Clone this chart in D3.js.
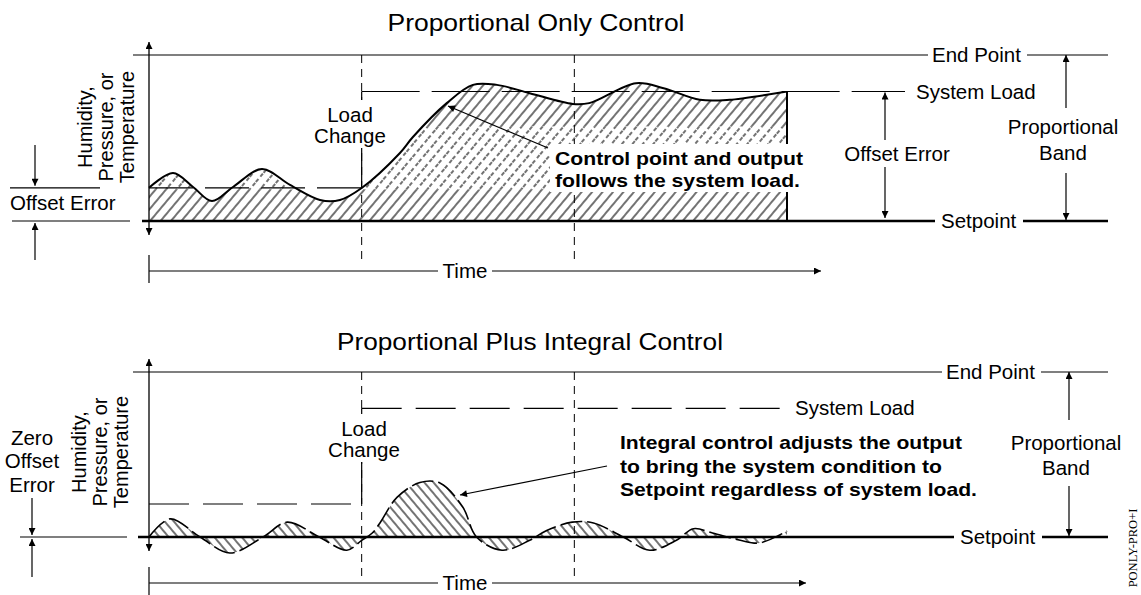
<!DOCTYPE html>
<html>
<head>
<meta charset="utf-8">
<script src="https://cdn.jsdelivr.net/npm/d3@7"></script>
<style>
  html, body { margin: 0; padding: 0; background: #fff; }
  svg { display: block; }
  text { font-family: "Liberation Sans", Arial, sans-serif; fill: #000; }
</style>
</head>
<body>
<svg id="chart" width="1141" height="595"></svg>
<script>
// ── Data ──────────────────────────────────────────────────────
// time runs 0..30, value runs 0 (setpoint) .. 100 (end point)
const setpoint = 0, endPoint = 100;
const loadBefore = 20, loadAfter = 78;
const loadChangeT = 10, markerT = 20, tEnd = 30;

// Proportional only: control point follows load
const topT = [0, 1.13, 2.07, 2.96, 3.95, 5.31, 6.63, 8.04, 8.98, 10, 11.8, 12.41, 14.0, 15.23, 16.36, 17.9, 19.93, 20.7, 22.9, 24.2, 25.9, 27.3, 30];
const topV = [20, 28.9, 20.5, 12, 20.5, 31.3, 21.7, 12.7, 12.7, 19.9, 41, 50.6, 71, 82, 82, 77, 70.5, 71, 83, 80, 73, 73, 78];

// Proportional plus integral: oscillates about setpoint
const botT = [0, 1.0, 2.4, 3.8, 5.36, 6.5, 8.0, 9.3, 10, 10.5, 10.86, 11.66, 12.74, 13.68, 14.76, 15.4, 16.6, 17.9, 18.7, 19.9, 20.9, 22.3, 23.55, 24.8, 25.6, 26.5, 27.8, 28.7, 30];
const botV = [0, 11, 0, -9.7, 0, 9, 0, -8, -2, 2.4, 8.5, 24, 33, 32.7, 18, 0, -8, -2, 4, 9, 8.5, 0, -8, -2, 5, 2.4, -2, -3.6, 3.6];

const titles = ["Proportional Only Control", "Proportional Plus Integral Control"];
const yLabel = ["Humidity,", "Pressure, or", "Temperature"];

// ── Setup ─────────────────────────────────────────────────────
const svg = d3.select("#chart");
const defs = svg.append("defs");

const x = d3.scaleLinear().domain([0, tEnd]).range([149, 787]);
const yTop = d3.scaleLinear().domain([setpoint, endPoint]).range([221, 55]);
const yBot = d3.scaleLinear().domain([setpoint, endPoint]).range([537, 372]);

// arrowhead marker
defs.append("marker")
  .attr("id", "arr").attr("viewBox", "0 0 10 10")
  .attr("refX", 10).attr("refY", 5)
  .attr("markerWidth", 10).attr("markerHeight", 7)
  .attr("markerUnits", "userSpaceOnUse")
  .attr("orient", "auto-start-reverse")
  .append("path").attr("d", "M0,0 L10,5 L0,10 Z").attr("fill", "#000");

// hatch patterns
function hatch(id, angle, gap, dash) {
  const p = defs.append("pattern")
    .attr("id", id).attr("patternUnits", "userSpaceOnUse")
    .attr("width", gap).attr("height", 12)
    .attr("patternTransform", `rotate(${angle})`);
  p.append("line").attr("x1", 1).attr("y1", 0).attr("x2", 1).attr("y2", 12)
    .attr("stroke", "#000").attr("stroke-width", 1.1)
    .attr("stroke-dasharray", dash || null);
}
hatch("h-solid", 40, 8);
hatch("h-dash", 40, 8, "4,3");
hatch("h-back", -40, 7);

function line(g, x1, y1, x2, y2, w, dash) {
  return g.append("line")
    .attr("x1", x1).attr("y1", y1).attr("x2", x2).attr("y2", y2)
    .attr("stroke", "#000").attr("stroke-width", w || 1.2)
    .attr("stroke-dasharray", dash || null);
}
function label(g, str, tx, ty, opt = {}) {
  const t = g.append("text")
    .attr("x", tx).attr("y", ty)
    .attr("font-size", opt.size || 20.5)
    .attr("font-weight", opt.bold ? "bold" : null)
    .attr("text-anchor", opt.anchor || "start")
    .text(str);
  if (opt.len) t.attr("textLength", opt.len).attr("lengthAdjust", "spacingAndGlyphs");
  return t;
}
function arrow(g, x1, y1, x2, y2, w) {
  line(g, x1, y1, x2, y2, w || 1.2).attr("marker-end", "url(#arr)");
}

// ── Common frame for each panel ───────────────────────────────
function frame(g, y, o) {
  const ySp = y(setpoint), yEp = y(endPoint);
  // end point line
  line(g, 133, yEp, o.epTextX - 4, yEp);
  label(g, "End Point", o.epTextX, yEp + 7);
  line(g, o.epTextX + 95, yEp, 1108, yEp);
  // setpoint line (heavy)
  line(g, o.spStart, ySp, o.spTextX - 6, ySp, 2.6);
  label(g, "Setpoint", o.spTextX, ySp + 7);
  line(g, o.spTextX + 82, ySp, 1108, ySp, 2.6);
  // value axis, double headed
  g.append("line").attr("x1", x(0)).attr("x2", x(0))
    .attr("y1", yEp - 13).attr("y2", ySp + 14)
    .attr("stroke", "#000").attr("stroke-width", 1.3)
    .attr("marker-start", "url(#arr)").attr("marker-end", "url(#arr)");
  // vertical time markers
  [loadChangeT, markerT].forEach(t =>
    line(g, x(t), yEp, x(t), ySp + o.markerBelow, 1, "8,6"));
  // time axis
  const yt = ySp + o.timeDy;
  line(g, x(0), yt - 16, x(0), yt + 12, 1.2);
  line(g, x(0), yt, 438, yt);
  label(g, "Time", 465, yt + 7, { anchor: "middle" });
  arrow(g, 492, yt, o.timeEnd, yt);
  // proportional band
  const bx = o.bandX;
  arrow(g, bx, o.band[0], bx, yEp);
  arrow(g, bx, o.band[1], bx, ySp - 1);
  label(g, "Proportional", bx - 3, o.bandText[0], { anchor: "middle" });
  label(g, "Band", bx - 3, o.bandText[1], { anchor: "middle" });
  // rotated y label
  const yl = g.append("text")
    .attr("transform", `translate(${o.ylX},${o.ylY}) rotate(-90)`)
    .attr("font-size", 20).attr("text-anchor", "middle");
  yLabel.forEach((s, i) => yl.append("tspan")
    .attr("x", 0).attr("dy", i ? 21 : 0).text(s));
}

// ── Top panel: proportional only ─────────────────────────────
const gTop = svg.append("g");
label(gTop, titles[0], 536, 31, { size: 24, anchor: "middle", len: 297 });

const areaTop = d3.area().x((d, i) => x(topT[i])).y0(yTop(setpoint)).y1(d => yTop(d))
  .curve(d3.curveCatmullRom);
const lineTop = d3.line().x((d, i) => x(topT[i])).y(d => yTop(d)).curve(d3.curveCatmullRom);

defs.append("clipPath").attr("id", "clip-top")
  .append("path").attr("d", areaTop(topV));
const hg = gTop.append("g").attr("clip-path", "url(#clip-top)");
// solid hatch near setpoint and near the load, dashed hatch in between
const bands = [[setpoint, loadBefore - 1, "h-solid"], [loadBefore - 1, 57, "h-dash"], [57, endPoint, "h-solid"]];
bands.forEach(([a, b, pid]) => hg.append("rect")
  .attr("x", x(0)).attr("width", x(tEnd) - x(0))
  .attr("y", yTop(b)).attr("height", yTop(a) - yTop(b))
  .attr("fill", `url(#${pid})`));

frame(gTop, yTop, {
  epTextX: 932, spTextX: 941, spStart: 142, markerBelow: 44, timeDy: 50, timeEnd: 821,
  bandX: 1066, band: [108, 173], bandText: [134, 160], ylX: 92, ylY: 127
});

// system load step
line(gTop, x(0), yTop(loadBefore), x(loadChangeT), yTop(loadBefore), 1.2, "44,12");
line(gTop, x(loadChangeT), yTop(loadBefore), x(loadChangeT), yTop(loadAfter), 1.2);
line(gTop, x(loadChangeT), yTop(loadAfter), 905, yTop(loadAfter), 1.2, "58,12");
label(gTop, "System Load", 916, yTop(loadAfter) + 7);
gTop.append("rect").attr("x", 326).attr("y", 100).attr("width", 48).attr("height", 48).attr("fill", "#fff");
label(gTop, "Load", 350, 122, { anchor: "middle" });
label(gTop, "Change", 350, 143, { anchor: "middle" });

gTop.append("path").attr("d", lineTop(topV))
  .attr("fill", "none").attr("stroke", "#000").attr("stroke-width", 2);
line(gTop, x(tEnd), yTop(topV[topV.length - 1]), x(tEnd), yTop(setpoint), 2);

// offset error (right)
arrow(gTop, 885, 140, 885, yTop(loadAfter) + 1);
arrow(gTop, 885, 167, 885, yTop(setpoint) - 3);
label(gTop, "Offset Error", 897, 161, { anchor: "middle" });

// offset error (left)
line(gTop, 10, yTop(loadBefore), 100, yTop(loadBefore));
line(gTop, 12, yTop(setpoint), 130, yTop(setpoint));
arrow(gTop, 35, 145, 35, yTop(loadBefore) - 2);
arrow(gTop, 35, 260, 35, yTop(setpoint) + 2);
label(gTop, "Offset Error", 10, 210);

// annotation
const gNoteTop = gTop.append("g");
gNoteTop.append("rect").attr("x", 550).attr("y", 144).attr("width", 256).attr("height", 48).attr("fill", "#fff");
arrow(gNoteTop, 548, 148, 448, 106, 1.2);
label(gNoteTop, "Control point and output", 555, 165, { size: 19, bold: true, len: 248 });
label(gNoteTop, "follows the system load.", 555, 187, { size: 19, bold: true, len: 245 });

// ── Bottom panel: proportional plus integral ─────────────────
const gBot = svg.append("g");
label(gBot, titles[1], 530, 350, { size: 24, anchor: "middle", len: 386 });

const areaBot = d3.area().x((d, i) => x(botT[i])).y0(yBot(setpoint)).y1(d => yBot(d))
  .curve(d3.curveCatmullRom);
const lineBot = d3.line().x((d, i) => x(botT[i])).y(d => yBot(d)).curve(d3.curveCatmullRom);

gBot.append("path").attr("d", areaBot(botV)).attr("fill", "url(#h-back)");

frame(gBot, yBot, {
  epTextX: 946, spTextX: 960, spStart: 138, markerBelow: 42, timeDy: 46, timeEnd: 806,
  bandX: 1069, band: [420, 486], bandText: [450, 475], ylX: 86, ylY: 452
});

line(gBot, x(0), yBot(loadBefore), x(loadChangeT), yBot(loadBefore), 1.2, "40,14");
line(gBot, x(loadChangeT), yBot(loadBefore), x(loadChangeT), yBot(loadAfter), 1.2);
line(gBot, x(loadChangeT), yBot(loadAfter), 780, yBot(loadAfter), 1.2, "40,14");
label(gBot, "System Load", 795, yBot(loadAfter) + 7);
gBot.append("rect").attr("x", 328).attr("y", 414).attr("width", 76).attr("height", 48).attr("fill", "#fff");
label(gBot, "Load", 364, 436, { anchor: "middle" });
label(gBot, "Change", 364, 457, { anchor: "middle" });

gBot.append("path").attr("d", lineBot(botV))
  .attr("fill", "none").attr("stroke", "#000").attr("stroke-width", 1.6)
  .attr("stroke-dasharray", "22,5");

// zero offset error (left)
line(gBot, 20, yBot(setpoint), 127, yBot(setpoint));
arrow(gBot, 32, 498, 32, yBot(setpoint) - 2);
arrow(gBot, 32, 577, 32, yBot(setpoint) + 2);
label(gBot, "Zero", 32, 445, { anchor: "middle" });
label(gBot, "Offset", 32, 468, { anchor: "middle" });
label(gBot, "Error", 32, 492, { anchor: "middle" });

// annotation
arrow(gBot, 607, 466, 460, 495, 1.2);
label(gBot, "Integral control adjusts the output", 620, 449, { size: 19, bold: true, len: 342 });
label(gBot, "to bring the system condition to", 620, 473, { size: 19, bold: true, len: 322 });
label(gBot, "Setpoint regardless of system load.", 620, 496, { size: 19, bold: true, len: 357 });

// figure code
svg.append("text")
  .attr("transform", "translate(1137,548) rotate(-90)")
  .attr("text-anchor", "middle")
  .style("font-family", "'Liberation Serif', 'Times New Roman', serif")
  .attr("font-size", 12.5)
  .text("PONLY-PRO+I");
</script>
</body>
</html>
